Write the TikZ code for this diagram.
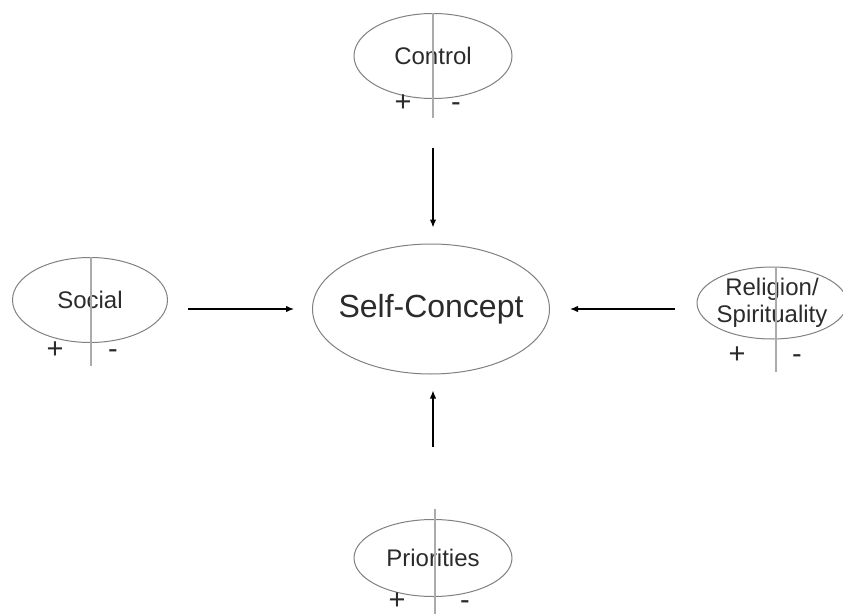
\documentclass[tikz,border=0pt]{standalone}
\usepackage{fontspec}
\setmainfont{Liberation Sans}
\usepackage{xcolor}
\usepackage{tikz}
\usetikzlibrary{shapes.geometric,arrows.meta}

\definecolor{inkgray}{HTML}{2B2B2B}
\definecolor{rimgray}{HTML}{808080}
\definecolor{splitgray}{HTML}{ABABAB}

\tikzset{
	factor/.style={ellipse, draw=rimgray, line width=1pt, inner xsep=-6pt, inner ysep=-4pt, text=inkgray, align=center, font=\fontsize{24}{27}\selectfont},
	core/.style={factor, inner xsep=-30pt, font=\fontsize{32}{35}\selectfont},
	split/.style={draw=splitgray, line width=1.5pt},
	sign/.style={text=inkgray, inner sep=0pt, text height=0.7em, text depth=0pt, font=\fontsize{29}{29}\selectfont},
	feed/.style={-{Latex[length=8pt,width=6.5pt]}, line width=1.3pt}
}

\begin{document}
\begin{tikzpicture}[x=1pt, y=-1pt]
		\useasboundingbox (0,0) rectangle (843,615);
		% ellipses
		\node[core, minimum width=237pt, minimum height=130pt] (self) at (431,309) {Self-Concept};
		\node[factor, minimum width=158pt, minimum height=85pt] (control) at (433,56) {Control};
		\node[factor, minimum width=155pt, minimum height=85pt] (social) at (90,300) {Social};
		\node[factor, minimum width=150pt, minimum height=72pt] (relig) at (772,303) {Religion/\\Spirituality};
		\node[factor, minimum width=158pt, minimum height=77pt] (prior) at (433,558) {Priorities};
		% dividers
		\draw[split] (control.north) -- ++(0,105);
		\draw[split] ([xshift=1pt]social.north) -- ++(0,109);
		\draw[split] ([xshift=4pt]relig.north) -- ++(0,105);
		\draw[split] ([xshift=2pt,yshift=10pt]prior.north) -- ++(0,105);
		% plus and minus
		\node[sign] (controlplus) at (403,108) {+};
		\node[sign] (controlminus) at (456,108) {-};
		\node[sign] (socialplus) at (55,355) {+};
		\node[sign] (socialminus) at (113,355) {-};
		\node[sign] (religplus) at (737,360) {+};
		\node[sign] (religminus) at (797,360) {-};
		\node[sign] (priorplus) at (397,606) {+};
		\node[sign] (priorminus) at (465,606) {-};
		% arrows
		\draw[feed, shorten <=49pt, shorten >=16pt] (control.south) -- (control.south |- self.north);
		\draw[feed, shorten <=20pt, shorten >=18pt] (social.east |- self.west) -- (self.west);
		\draw[feed, shorten <=22pt, shorten >=20pt] (relig.west |- self.east) -- (self.east);
		\draw[feed, shorten <=72pt, shorten >=16pt] (prior.north) -- (prior.north |- self.south);
\end{tikzpicture}
\end{document}
